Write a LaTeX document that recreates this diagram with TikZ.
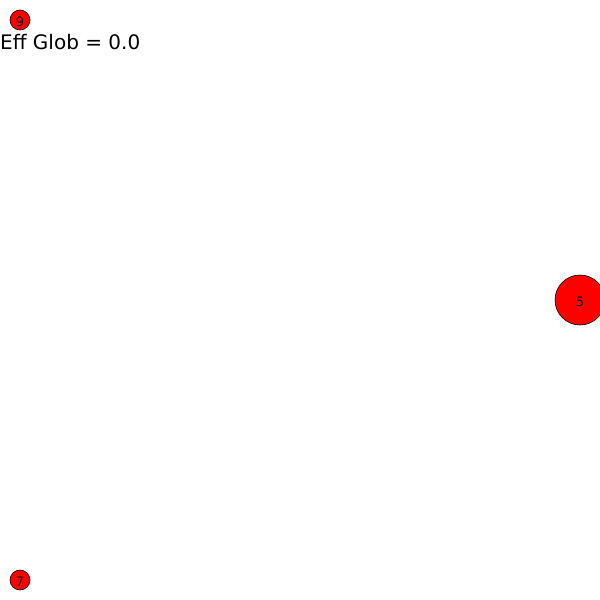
\documentclass[tikz,border=0pt]{standalone}
\usepackage{fontspec}
\setmainfont{DejaVu Sans}
\newcommand{\vlab}[1]{\raisebox{-2pt}[\height][\depth]{#1}}
\begin{document}
\begin{tikzpicture}[x=1pt,y=-1pt,
  vtx/.style={circle,draw=black,fill=red,line width=0.6pt,inner sep=0pt,font=\fontsize{13}{13}\selectfont}]
\useasboundingbox (0,0) rectangle (600,600);
\begin{scope}
\clip (0,0) rectangle (600,600);
\node[vtx,minimum size=20pt] (n9) at (20,20) {\vlab{9}};
\node[vtx,minimum size=50pt] (n5) at (580,300) {\vlab{5}};
\node[vtx,minimum size=20pt] (n7) at (20,580) {\vlab{7}};
\end{scope}
\node[anchor=base west,inner sep=0pt,font=\fontsize{20}{20}\selectfont] (lbl) at (0,49) {Eff Glob = 0.0};
\end{tikzpicture}
\end{document}
